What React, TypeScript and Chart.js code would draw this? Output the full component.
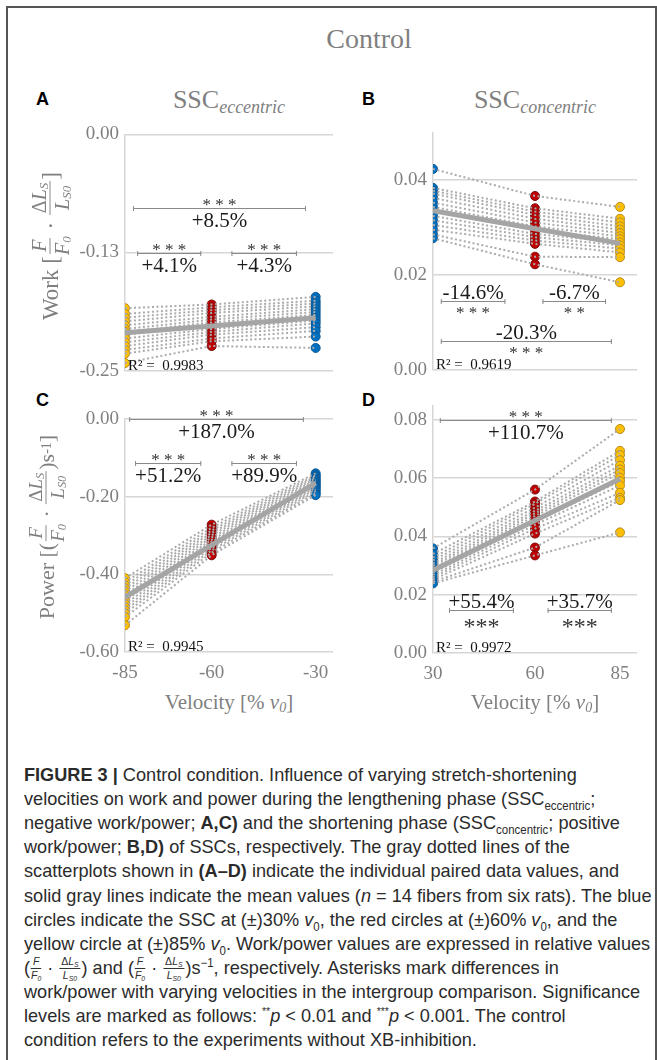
import React, { useEffect, useRef } from "react";
import { Chart, registerables } from "chart.js";
Chart.register(...registerables);

// ---------- data ----------
const velocitiesEcc = [-85, -60, -30];
const velocitiesCon = [30, 60, 85];

const workEccTicks = [-0.25, -0.125, 0];
const workConTicks = [0, 0.02, 0.04];
const powerEccTicks = [-0.6, -0.4, -0.2, 0];
const powerConTicks = [0, 0.02, 0.04, 0.06, 0.08];

// A: work, eccentric (14 fibers)
const workEcc85 = [-0.184, -0.19, -0.194, -0.198, -0.202, -0.206, -0.209, -0.212, -0.216, -0.22, -0.224, -0.228, -0.232, -0.242];
const workEcc60 = [-0.18, -0.183, -0.186, -0.189, -0.193, -0.196, -0.199, -0.203, -0.206, -0.209, -0.212, -0.216, -0.219, -0.224];
const workEcc30 = [-0.172, -0.176, -0.179, -0.182, -0.185, -0.188, -0.191, -0.194, -0.197, -0.2, -0.204, -0.208, -0.214, -0.226];
const workEccMean = [-0.21, -0.2027, -0.194];

// B: work, concentric
const workCon30 = [0.0423, 0.0383, 0.0377, 0.0371, 0.0362, 0.0352, 0.0343, 0.0334, 0.0324, 0.0315, 0.0305, 0.0295, 0.0285, 0.0277];
const workCon60 = [0.0366, 0.034, 0.0333, 0.0326, 0.0318, 0.031, 0.0302, 0.0294, 0.0286, 0.0279, 0.0272, 0.0265, 0.0238, 0.0222];
const workCon85 = [0.0343, 0.0318, 0.031, 0.0302, 0.0295, 0.0288, 0.0281, 0.0275, 0.0268, 0.0262, 0.0255, 0.0247, 0.0237, 0.0184];
const workConMean = [0.0335, 0.0297, 0.0266];

// C: power, eccentric
const powerEcc85 = [-0.41, -0.42, -0.428, -0.436, -0.444, -0.452, -0.46, -0.468, -0.476, -0.484, -0.492, -0.5, -0.51, -0.531];
const powerEcc60 = [-0.272, -0.28, -0.287, -0.293, -0.299, -0.305, -0.311, -0.316, -0.321, -0.326, -0.332, -0.338, -0.344, -0.351];
const powerEcc30 = [-0.14, -0.145, -0.149, -0.153, -0.157, -0.161, -0.165, -0.169, -0.173, -0.177, -0.181, -0.186, -0.191, -0.196];
const powerEccMean = [-0.459, -0.325, -0.165];

// D: power, concentric
const powerCon30 = [0.0359, 0.034, 0.0328, 0.0318, 0.0308, 0.03, 0.0292, 0.0284, 0.0276, 0.0268, 0.026, 0.0252, 0.0245, 0.0239];
const powerCon60 = [0.0561, 0.052, 0.0512, 0.0499, 0.0488, 0.0479, 0.047, 0.046, 0.045, 0.044, 0.0427, 0.041, 0.0362, 0.0335];
const powerCon85 = [0.0769, 0.0694, 0.068, 0.0662, 0.0643, 0.063, 0.0618, 0.0602, 0.059, 0.0575, 0.055, 0.0533, 0.0525, 0.0414];
const powerConMean = [0.0284, 0.0455, 0.0598];

const r2Labels = ["0.9983", "0.9619", "0.9945", "0.9972"];

// significance brackets (data units)
const bracketsA = [
  { x1: -82.7, x2: -32.8, y: -0.078, stars: "* * *", label: "+8.5%", below: true },
  { x1: -81.5, x2: -63.0, y: -0.125, stars: "* * *", label: "+4.1%", below: true },
  { x1: -54.3, x2: -35.4, y: -0.125, stars: "* * *", label: "+4.3%", below: true },
];
const bracketsB = [
  { x1: 32.3, x2: 51.3, y: 0.01445, stars: "* * *", label: "-14.6%", below: false },
  { x1: 62.2, x2: 80.9, y: 0.01445, stars: "* *", label: "-6.7%", below: false },
  { x1: 32.3, x2: 82.6, y: 0.00607, stars: "* * *", label: "-20.3%", below: false },
];
const bracketsC = [
  { x1: -83.8, x2: -33.4, y: 0, stars: "* * *", label: "+187.0%", below: true },
  { x1: -82.1, x2: -63.0, y: -0.1134, stars: "* * *", label: "+51.2%", below: true },
  { x1: -54.3, x2: -35.4, y: -0.1134, stars: "* * *", label: "+89.9%", below: true },
];
const bracketsD = [
  { x1: 32.0, x2: 82.6, y: 0.08, stars: "* * *", label: "+110.7%", below: true },
  { x1: 34.7, x2: 53.8, y: 0.0147, stars: "***", label: "+55.4%", below: false, big: true },
  { x1: 63.7, x2: 82.6, y: 0.0147, stars: "***", label: "+35.7%", below: false, big: true },
];

// ---------- styles ----------
const SERIF = '"Liberation Serif", "Times New Roman", serif';
const SANS = '"Liberation Sans", Arial, sans-serif';
const YELLOW = "#FFC000";
const RED = "#C00000";
const BLUE = "#0070C0";
const AXIS_GRAY = "#808080";

type Bracket = { x1: number; x2: number; y: number; stars: string; label: string; below: boolean; big?: boolean };

function makeAnnot(brackets: Bracket[], r2: string) {
  return {
    id: "annot",
    afterDatasetsDraw(chart: any) {
      const ctx = chart.ctx;
      const xs = chart.scales.x;
      const ys = chart.scales.y;
      ctx.save();
      for (const b of brackets) {
        const a = xs.getPixelForValue(b.x1);
        const c = xs.getPixelForValue(b.x2);
        const y = Math.round(ys.getPixelForValue(b.y)) + 0.5;
        ctx.strokeStyle = "#8a8a8a";
        ctx.lineWidth = 1;
        ctx.beginPath();
        ctx.moveTo(a, y);
        ctx.lineTo(c, y);
        ctx.moveTo(a + 0.5, y - 2.5);
        ctx.lineTo(a + 0.5, y + 2.5);
        ctx.moveTo(c - 0.5, y - 2.5);
        ctx.lineTo(c - 0.5, y + 2.5);
        ctx.stroke();
        const cx = (a + c) / 2;
        ctx.textAlign = "center";
        ctx.textBaseline = "middle";
        const starSize = b.big ? 24 : 17;
        const starY = b.below ? y - 6 : y + (b.big ? 13 : 9);
        const labY = b.below ? y + 13 : y - 8;
        ctx.fillStyle = "#333";
        ctx.font = `${starSize}px ${SERIF}`;
        ctx.fillText(b.stars, cx, starY + starSize * 0.16);
        ctx.fillStyle = "#1a1a1a";
        ctx.font = `21px ${SERIF}`;
        ctx.fillText(b.label, cx, labY);
      }
      const area = chart.chartArea;
      ctx.fillStyle = "#111";
      ctx.font = `15px ${SERIF}`;
      ctx.textAlign = "left";
      ctx.textBaseline = "alphabetic";
      ctx.fillText(`R\u00B2 =  ${r2}`, area.left + 3, area.bottom - 1);
      ctx.restore();
    },
  };
}

type Spec = {
  vel: number[];
  groups: number[][];
  colors: string[];
  edges: string[];
  mean: number[];
  xMin: number;
  xMax: number;
  xTicks: number[] | null;
  yMin: number;
  yMax: number;
  yTicks: number[];
  yWidth: number;
  padding: { top: number; right: number; bottom: number; left: number };
  brackets: Bracket[];
  r2: string;
};

function buildConfig(s: Spec): any {
  const datasets: any[] = [];
  datasets.push({
    data: s.vel.map((v, i) => ({ x: v, y: s.mean[i] })),
    showLine: true,
    borderColor: "#a5a5a5",
    borderWidth: 5,
    pointRadius: 0,
    order: 0,
  });
  const n = s.groups[0].length;
  for (let f = 0; f < n; f++) {
    datasets.push({
      data: s.vel.map((v, g) => ({ x: v, y: s.groups[g][f] })),
      showLine: true,
      borderColor: "#ababab",
      borderWidth: 2,
      borderDash: [2, 2.5],
      pointRadius: 0,
      order: 1,
    });
  }
  s.groups.forEach((g, gi) => {
    datasets.push({
      data: g.map((y) => ({ x: s.vel[gi], y })),
      backgroundColor: s.colors[gi],
      borderColor: s.edges[gi],
      borderWidth: 1,
      pointRadius: 4.5,
      order: 2,
    });
  });
  const tickFont = { family: SERIF, size: 19 };
  const hasX = !!s.xTicks;
  return {
    type: "scatter",
    data: { datasets },
    plugins: [makeAnnot(s.brackets, s.r2)],
    options: {
      animation: false,
      responsive: false,
      maintainAspectRatio: false,
      events: [],
      layout: { padding: s.padding },
      plugins: { legend: { display: false }, tooltip: { enabled: false } },
      scales: {
        x: {
          type: "linear",
          min: s.xMin,
          max: s.xMax,
          display: hasX,
          afterBuildTicks: (sc: any) => {
            sc.ticks = (s.xTicks || []).map((v) => ({ value: v }));
          },
          afterFit: (sc: any) => {
            sc.height = hasX ? 30 : 0;
          },
          grid: { display: false, drawTicks: false },
          border: { display: false },
          ticks: { font: tickFont, color: AXIS_GRAY, padding: 10, maxRotation: 0, callback: (v: any) => String(v) },
        },
        y: {
          type: "linear",
          min: s.yMin,
          max: s.yMax,
          afterBuildTicks: (sc: any) => {
            sc.ticks = s.yTicks.map((v) => ({ value: v }));
          },
          afterFit: (sc: any) => {
            sc.width = s.yWidth;
          },
          grid: { color: "#d6d6d6", lineWidth: 1.5, drawTicks: false },
          border: { display: true, color: "#d6d6d6", width: 1.5 },
          ticks: { font: tickFont, color: AXIS_GRAY, padding: 6, callback: (v: any) => Number(v).toFixed(2) },
        },
      },
    },
  };
}

function ChartPanel({ spec, left, top, width, height }: { spec: Spec; left: number; top: number; width: number; height: number }) {
  const ref = useRef<HTMLCanvasElement>(null);
  useEffect(() => {
    const chart = new Chart(ref.current as HTMLCanvasElement, buildConfig(spec));
    return () => chart.destroy();
  }, []);
  return <canvas ref={ref} width={width} height={height} style={{ position: "absolute", left, top, width, height }} />;
}

const EDGE_Y = "#b58a1a";
const EDGE_R = "#7a1010";
const EDGE_B = "#0a5590";

const specA: Spec = {
  vel: velocitiesEcc,
  groups: [workEcc85, workEcc60, workEcc30],
  colors: [YELLOW, RED, BLUE],
  edges: [EDGE_Y, EDGE_R, EDGE_B],
  mean: workEccMean,
  xMin: -85, xMax: -25, xTicks: null,
  yMin: -0.25, yMax: 0, yTicks: workEccTicks,
  yWidth: 125,
  padding: { top: 17, right: 12, bottom: 17, left: 0 },
  brackets: bracketsA, r2: r2Labels[0],
};
const specB: Spec = {
  vel: velocitiesCon,
  groups: [workCon30, workCon60, workCon85],
  colors: [BLUE, RED, YELLOW],
  edges: [EDGE_B, EDGE_R, EDGE_Y],
  mean: workConMean,
  xMin: 30, xMax: 90, xTicks: null,
  yMin: 0, yMax: 0.05, yTicks: workConTicks,
  yWidth: 88,
  padding: { top: 17, right: 20, bottom: 17, left: 0 },
  brackets: bracketsB, r2: r2Labels[1],
};
const specC: Spec = {
  vel: velocitiesEcc,
  groups: [powerEcc85, powerEcc60, powerEcc30],
  colors: [YELLOW, RED, BLUE],
  edges: [EDGE_Y, EDGE_R, EDGE_B],
  mean: powerEccMean,
  xMin: -85, xMax: -25, xTicks: velocitiesEcc,
  yMin: -0.6, yMax: 0, yTicks: powerEccTicks,
  yWidth: 125,
  padding: { top: 26, right: 12, bottom: 7, left: 0 },
  brackets: bracketsC, r2: r2Labels[2],
};
const specD: Spec = {
  vel: velocitiesCon,
  groups: [powerCon30, powerCon60, powerCon85],
  colors: [BLUE, RED, YELLOW],
  edges: [EDGE_B, EDGE_R, EDGE_Y],
  mean: powerConMean,
  xMin: 30, xMax: 90, xTicks: velocitiesCon,
  yMin: 0, yMax: 0.085, yTicks: powerConTicks,
  yWidth: 88,
  padding: { top: 17, right: 20, bottom: 8, left: 0 },
  brackets: bracketsD, r2: r2Labels[3],
};

// ---------- text helpers ----------
const Frac = ({ n, d, size, color, line, tight }: { n: React.ReactNode; d: React.ReactNode; size: number; color?: string; line?: string; tight?: boolean }) => (
  <span style={{ display: "inline-flex", flexDirection: "column", alignItems: "center", verticalAlign: "middle", fontSize: size, lineHeight: 1, margin: tight ? "-9px 1px" : "0 1px", color }}>
    <span style={{ borderBottom: `1px solid ${line || "#8c8c8c"}`, padding: "0 2px 1px" }}>{n}</span>
    <span style={{ paddingTop: 1 }}>{d}</span>
  </span>
);

const Abs = ({ x, y, anchor, style, children }: { x: number; y: number; anchor?: "c" | "l"; style?: React.CSSProperties; children: React.ReactNode }) => (
  <div
    style={{
      position: "absolute",
      left: x,
      top: y,
      transform: anchor === "l" ? "translate(0,-50%)" : "translate(-50%,-50%)",
      whiteSpace: "nowrap",
      lineHeight: 1,
      ...style,
    }}
  >
    {children}
  </div>
);

const gray = "#7f7f7f";
const it = (t: string) => <i>{t}</i>;
const subS = (size: number): React.CSSProperties => ({ fontSize: size, fontStyle: "italic", verticalAlign: "-2px", lineHeight: 0 });

const SSCTitle = ({ sub }: { sub: string }) => (
  <span style={{ fontFamily: SERIF, color: gray, fontSize: 26 }}>
    SSC<sub style={{ fontSize: 18, fontStyle: "italic", verticalAlign: "-5px", lineHeight: 0 }}>{sub}</sub>
  </span>
);

const VelTitle = () => (
  <span style={{ fontFamily: SERIF, color: gray, fontSize: 21 }}>
    Velocity [% <i>v</i>
    <sub style={{ fontSize: 14, fontStyle: "italic", verticalAlign: "-3px", lineHeight: 0 }}>0</sub>]
  </span>
);

const FracF = ({ size, line, tight }: { size: number; line?: string; tight?: boolean }) => (
  <Frac size={size} line={line} tight={tight} n={it("F")} d={<span>{it("F")}<sub style={subS(size * 0.65)}>0</sub></span>} />
);
const FracL = ({ size, line, tight }: { size: number; line?: string; tight?: boolean }) => (
  <Frac
    size={size}
    line={line}
    tight={tight}
    n={<span>Δ{it("L")}<sub style={subS(size * 0.65)}>S</sub></span>}
    d={<span>{it("L")}<sub style={subS(size * 0.65)}>S0</sub></span>}
  />
);

const cs: React.CSSProperties = { fontSize: 12, lineHeight: 0 };
const captionLines: React.ReactNode[] = [
  <><b>FIGURE 3 |</b> Control condition. Influence of varying stretch-shortening</>,
  <>velocities on work and power during the lengthening phase (SSC<sub style={cs}>eccentric</sub>;</>,
  <>negative work/power; <b>A,C)</b> and the shortening phase (SSC<sub style={cs}>concentric</sub>; positive</>,
  <>work/power; <b>B,D)</b> of SSCs, respectively. The gray dotted lines of the</>,
  <>scatterplots shown in <b>(A–D)</b> indicate the individual paired data values, and</>,
  <>solid gray lines indicate the mean values (<i>n</i> = 14 fibers from six rats). The blue</>,
  <>circles indicate the SSC at (±)30% <i>v</i><sub style={cs}>0</sub>, the red circles at (±)60% <i>v</i><sub style={cs}>0</sub>, and the</>,
  <>yellow circle at (±)85% <i>v</i><sub style={cs}>0</sub>. Work/power values are expressed in relative values</>,
  <>(<FracF size={11} line="#333" tight /> · <FracL size={11} line="#333" tight />) and (<FracF size={11} line="#333" tight /> · <FracL size={11} line="#333" tight />)s<sup style={cs}>−1</sup>, respectively. Asterisks mark differences in</>,
  <>work/power with varying velocities in the intergroup comparison. Significance</>,
  <>levels are marked as follows: <sup style={{ fontSize: 11, lineHeight: 0 }}>**</sup><i>p</i> &lt; 0.01 and <sup style={{ fontSize: 11, lineHeight: 0 }}>***</sup><i>p</i> &lt; 0.001. The control</>,
  <>condition refers to the experiments without XB-inhibition.</>,
];

export default function App() {
  return (
    <div style={{ position: "absolute", left: 0, top: 0, width: 657, height: 1060, background: "#fff", overflow: "hidden", fontFamily: SERIF }}>
      <div style={{ position: "absolute", left: 6, top: 6, width: 647, height: 1100, borderLeft: "2px solid #555", borderTop: "2px solid #555", borderRight: "2px solid #555" }} />

      <Abs x={369} y={39} style={{ fontSize: 28, color: gray }}>Control</Abs>

      <Abs x={36} y={99} anchor="l" style={{ fontFamily: SANS, fontWeight: "bold", fontSize: 18, color: "#000" }}>A</Abs>
      <Abs x={229} y={100}><SSCTitle sub="eccentric" /></Abs>
      <Abs x={362} y={99} anchor="l" style={{ fontFamily: SANS, fontWeight: "bold", fontSize: 18, color: "#000" }}>B</Abs>
      <Abs x={535} y={100}><SSCTitle sub="concentric" /></Abs>
      <Abs x={36} y={400} anchor="l" style={{ fontFamily: SANS, fontWeight: "bold", fontSize: 18, color: "#000" }}>C</Abs>
      <Abs x={362} y={400} anchor="l" style={{ fontFamily: SANS, fontWeight: "bold", fontSize: 18, color: "#000" }}>D</Abs>

      <ChartPanel spec={specA} left={0} top={117} width={345} height={271} />
      <ChartPanel spec={specB} left={345} top={115} width={312} height={272} />
      <ChartPanel spec={specC} left={0} top={393} width={345} height={296} />
      <ChartPanel spec={specD} left={345} top={388} width={312} height={303} />

      <div style={{ position: "absolute", left: 50, top: 246, transform: "translate(-50%,-50%) rotate(-90deg)", whiteSpace: "nowrap", fontSize: 23, color: gray, fontFamily: SERIF, display: "flex", alignItems: "center" }}>
        Work&nbsp;[<FracF size={20} />&nbsp;·&nbsp;<FracL size={20} />]
      </div>
      <div style={{ position: "absolute", left: 46, top: 527, transform: "translate(-50%,-50%) rotate(-90deg)", whiteSpace: "nowrap", fontSize: 22, color: gray, fontFamily: SERIF, display: "flex", alignItems: "center" }}>
        Power&nbsp;[(<FracF size={19} />&nbsp;·&nbsp;<FracL size={19} />)s<sup style={{ fontSize: 14, verticalAlign: "8px", lineHeight: 0 }}>-1</sup>]
      </div>

      <Abs x={229} y={702}><VelTitle /></Abs>
      <Abs x={535} y={702}><VelTitle /></Abs>

      {captionLines.map((ln, i) => (
        <div
          key={i}
          style={{
            position: "absolute",
            left: 24,
            top: 763 + i * 24.1,
            height: 24,
            lineHeight: "24px",
            whiteSpace: "nowrap",
            fontFamily: SANS,
            fontSize: 19,
            color: "#2b2b2b",
            transform: "scaleX(0.955)",
            transformOrigin: "0 0",
          }}
        >
          {ln}
        </div>
      ))}
    </div>
  );
}
